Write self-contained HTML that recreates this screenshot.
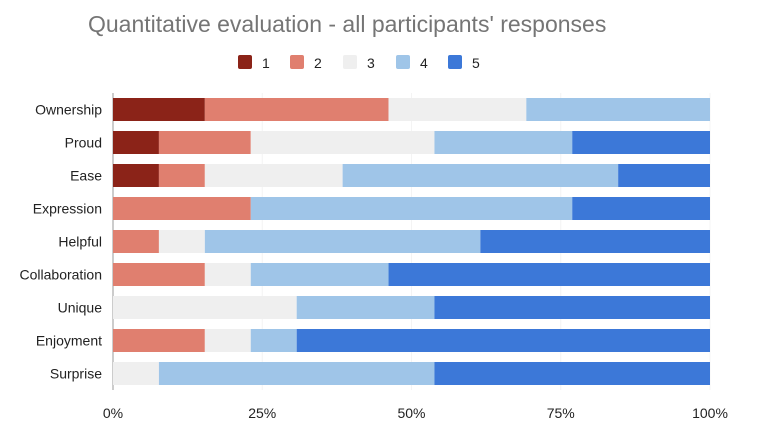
<!DOCTYPE html>
<html><head><meta charset="utf-8"><style>
body{margin:0;background:#fff;font-family:"Liberation Sans",Arial,sans-serif;}
svg text{font-family:"Liberation Sans",Arial,sans-serif;}
</style></head><body>
<svg id="chart" width="762" height="435">
<text x="88" y="32" font-size="23" fill="#757575">Quantitative evaluation - all participants' responses</text>
<g id="legend"></g>
<g id="grid"></g>
<g id="bars"></g>
<g id="ylabels"></g>
<g id="xlabels"></g>
</svg>
<script>
const categories=["Ownership","Proud","Ease","Expression","Helpful","Collaboration","Unique","Enjoyment","Surprise"];
const s1=[2,1,1,0,0,0,0,0,0];
const s2=[4,2,1,3,1,2,0,2,0];
const s3=[3,4,3,0,1,1,4,1,1];
const s4=[4,3,6,7,6,3,3,1,6];
const s5=[0,3,2,3,5,7,6,9,6];
const seriesNames=["1","2","3","4","5"];
const colors=["#8b2318","#e07f6f","#efefef","#9fc5e8","#3c78d8"];
const ticks=[0,0.25,0.5,0.75,1];
const tickLabels=["0%","25%","50%","75%","100%"];
const NS="http://www.w3.org/2000/svg";
const x0=113,x1=710,yTop=93,rowH=33,barH=23;
const xs=v=>x0+v*(x1-x0);
const ys=i=>yTop+i*rowH+(rowH-barH)/2;
function mk(tag,attrs,parent){const e=document.createElementNS(NS,tag);for(const k in attrs)e.setAttribute(k,attrs[k]);parent.appendChild(e);return e;}
const series=[s1,s2,s3,s4,s5];
const grid=document.getElementById('grid');
ticks.forEach((t,i)=>{
 const l=mk('line',{x1:xs(t),x2:xs(t),y1:yTop,y2:yTop+rowH*categories.length,stroke:i==0?'#999':'#f4f4f4','stroke-width':1},grid);
 
 
 const tx=mk('text',{x:xs(t),y:418,'font-size':14,fill:'#222','text-anchor':'middle'},document.getElementById('xlabels'));
 tx.textContent=tickLabels[i];
 
 
});
const bars=document.getElementById('bars');
categories.forEach((c,i)=>{
 const total=series.reduce((a,s)=>a+s[i],0);
 let cum=0;
 series.forEach((s,k)=>{
  if(s[i]>0){
   const r=mk('rect',{x:xs(cum/total),y:ys(i),width:xs((cum+s[i])/total)-xs(cum/total),height:barH,fill:colors[k]},bars);
   
   
  }
  cum+=s[i];
 });
 const t=mk('text',{x:102,y:ys(i)+barH/2+5,'font-size':14,fill:'#222','text-anchor':'end'},document.getElementById('ylabels'));
 t.textContent=c;
 
 
});
const lg=document.getElementById('legend');
const lx=[238,290,343,396,448];
seriesNames.forEach((n,k)=>{
 const r=mk('rect',{x:lx[k],y:55,width:14,height:14,rx:2,fill:colors[k]},lg);
 
 
 const t=mk('text',{x:lx[k]+24,y:68,'font-size':14,fill:'#222'},lg);
 t.textContent=n;
 
 
});
</script>
</body></html>
